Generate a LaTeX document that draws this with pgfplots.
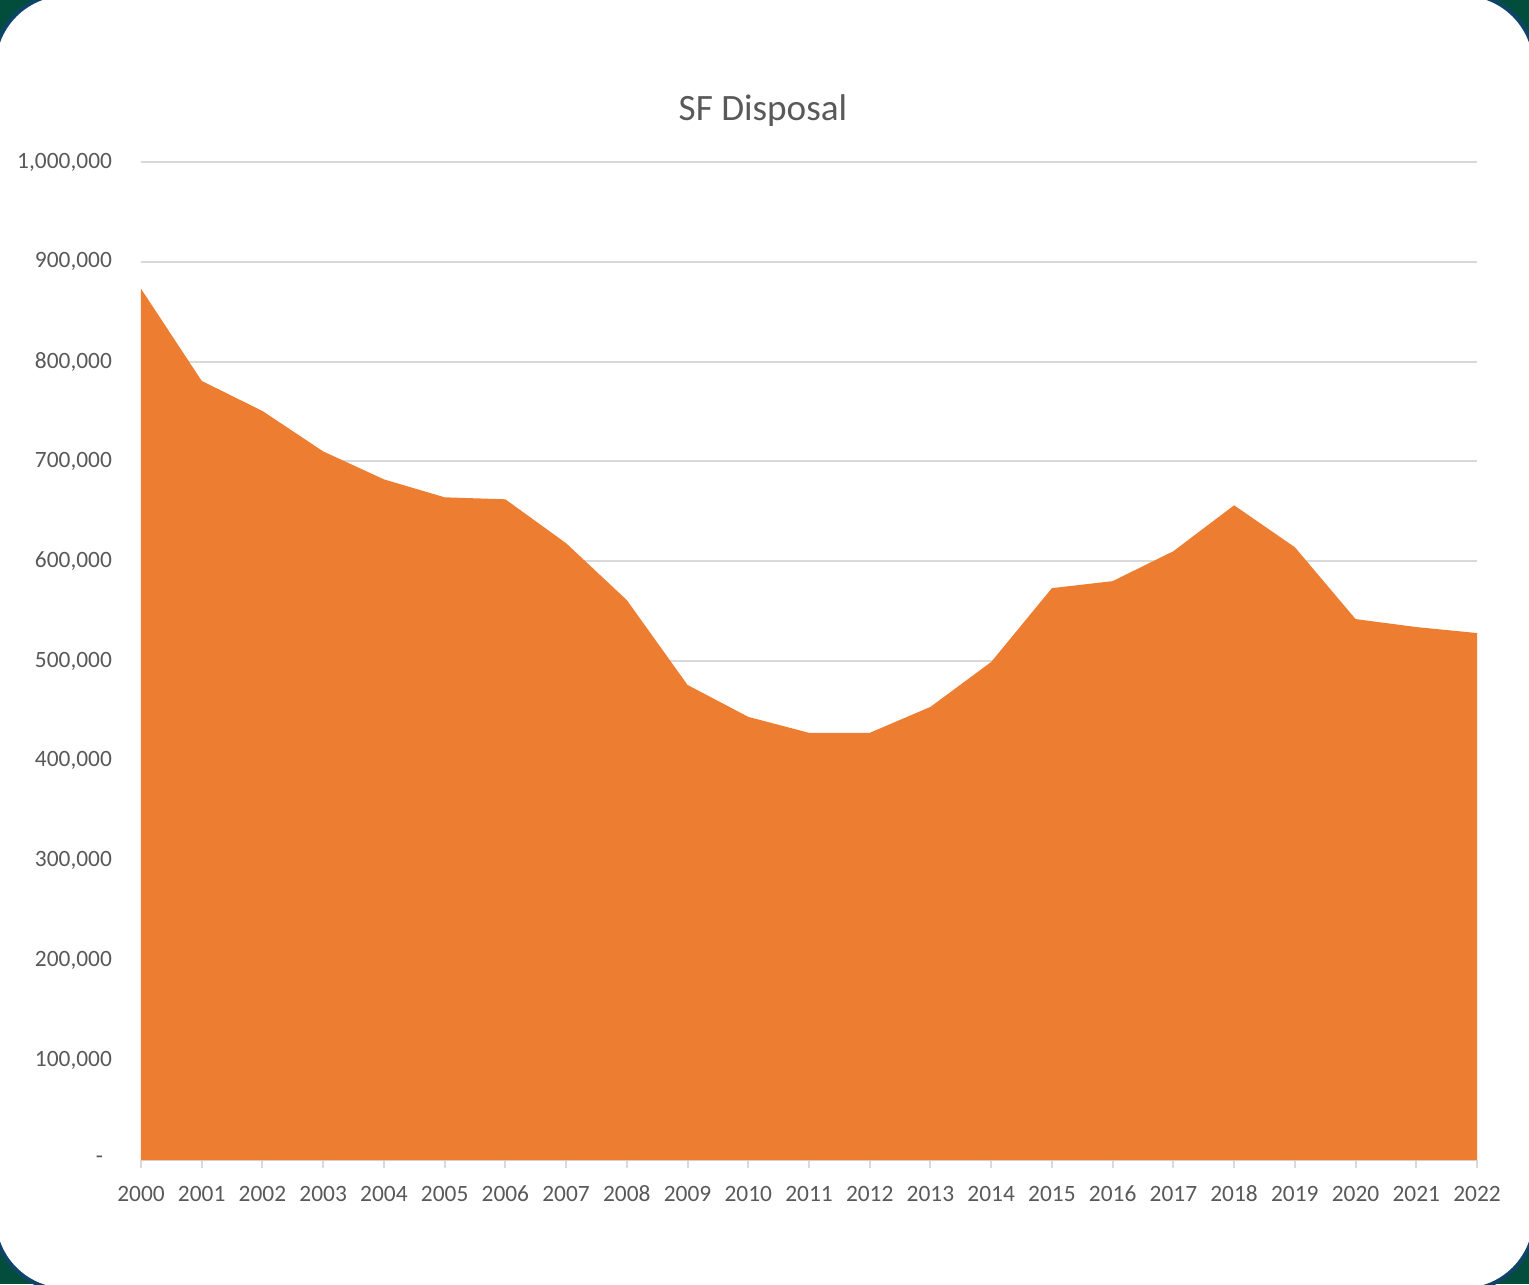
\documentclass[border=0pt]{standalone}
\usepackage{pgfplots}
\pgfplotsset{compat=1.18}
\usepackage{fontspec}
\setmainfont{Carlito}
\definecolor{bgA}{HTML}{024D3C}
\definecolor{bgB}{HTML}{0D4468}
\definecolor{orA}{HTML}{ED7D31}
\definecolor{txt}{HTML}{595959}
\definecolor{grd}{HTML}{D9D9D9}
\begin{document}
\begin{tikzpicture}
\useasboundingbox (0,0) rectangle (764.5pt,642pt);
\fill[bgA] (0,0) rectangle (764.5pt,642pt);
\begin{scope}
\clip (0,0) rectangle (764.5pt,642pt);
\filldraw[fill=white, draw=bgB, line width=2pt, rounded corners=36pt] (-3pt,-3pt) rectangle (767.5pt,645pt);
\end{scope}
\node[text=txt, font=\fontsize{18.6}{22}\selectfont] at (381.5pt,586.5pt) {SF Disposal};
\begin{axis}[
  at={(70.5pt,62pt)}, anchor=south west,
  scale only axis, width=668pt, height=499pt,
  xmin=2000, xmax=2022, ymin=0, ymax=1000000,
  xtick={2000,2001,...,2022},
  ytick={0,100000,200000,300000,400000,500000,600000,700000,800000,900000,1000000},
  yticklabels={{\makebox[8pt][l]{-}},{100,000},{200,000},{300,000},{400,000},{500,000},{600,000},{700,000},{800,000},{900,000},{1,000,000}},
  scaled y ticks=false,
  axis x line*=bottom, axis y line*=left,
  x axis line style={grd, line width=1pt},
  y axis line style={draw=none},
  ymajorgrids, grid style={grd, line width=1pt},
  tick align=outside, major tick length=4pt,
  xtick style={grd, line width=1pt},
  ytick style={draw=none},
  tick label style={text=txt, font=\fontsize{11.7}{14}\selectfont},
  /pgf/number format/assume math mode=true,
  x tick label style={/pgf/number format/1000 sep={}, yshift=-5.5pt, text height=7.6pt, text depth=0pt},
  y tick label style={xshift=-7pt},
]
\addplot[fill=orA, draw=none] coordinates {
(2000,873000) (2001,780600) (2002,750500) (2003,710000) (2004,682000)
(2005,664000) (2006,662000) (2007,618000) (2008,561000) (2009,476000)
(2010,444000) (2011,428000) (2012,428000) (2013,454000) (2014,499000)
(2015,573000) (2016,580000) (2017,610000) (2018,656000) (2019,614000)
(2020,542000) (2021,534000) (2022,528000)
} \closedcycle;
\end{axis}
\end{tikzpicture}
\end{document}
